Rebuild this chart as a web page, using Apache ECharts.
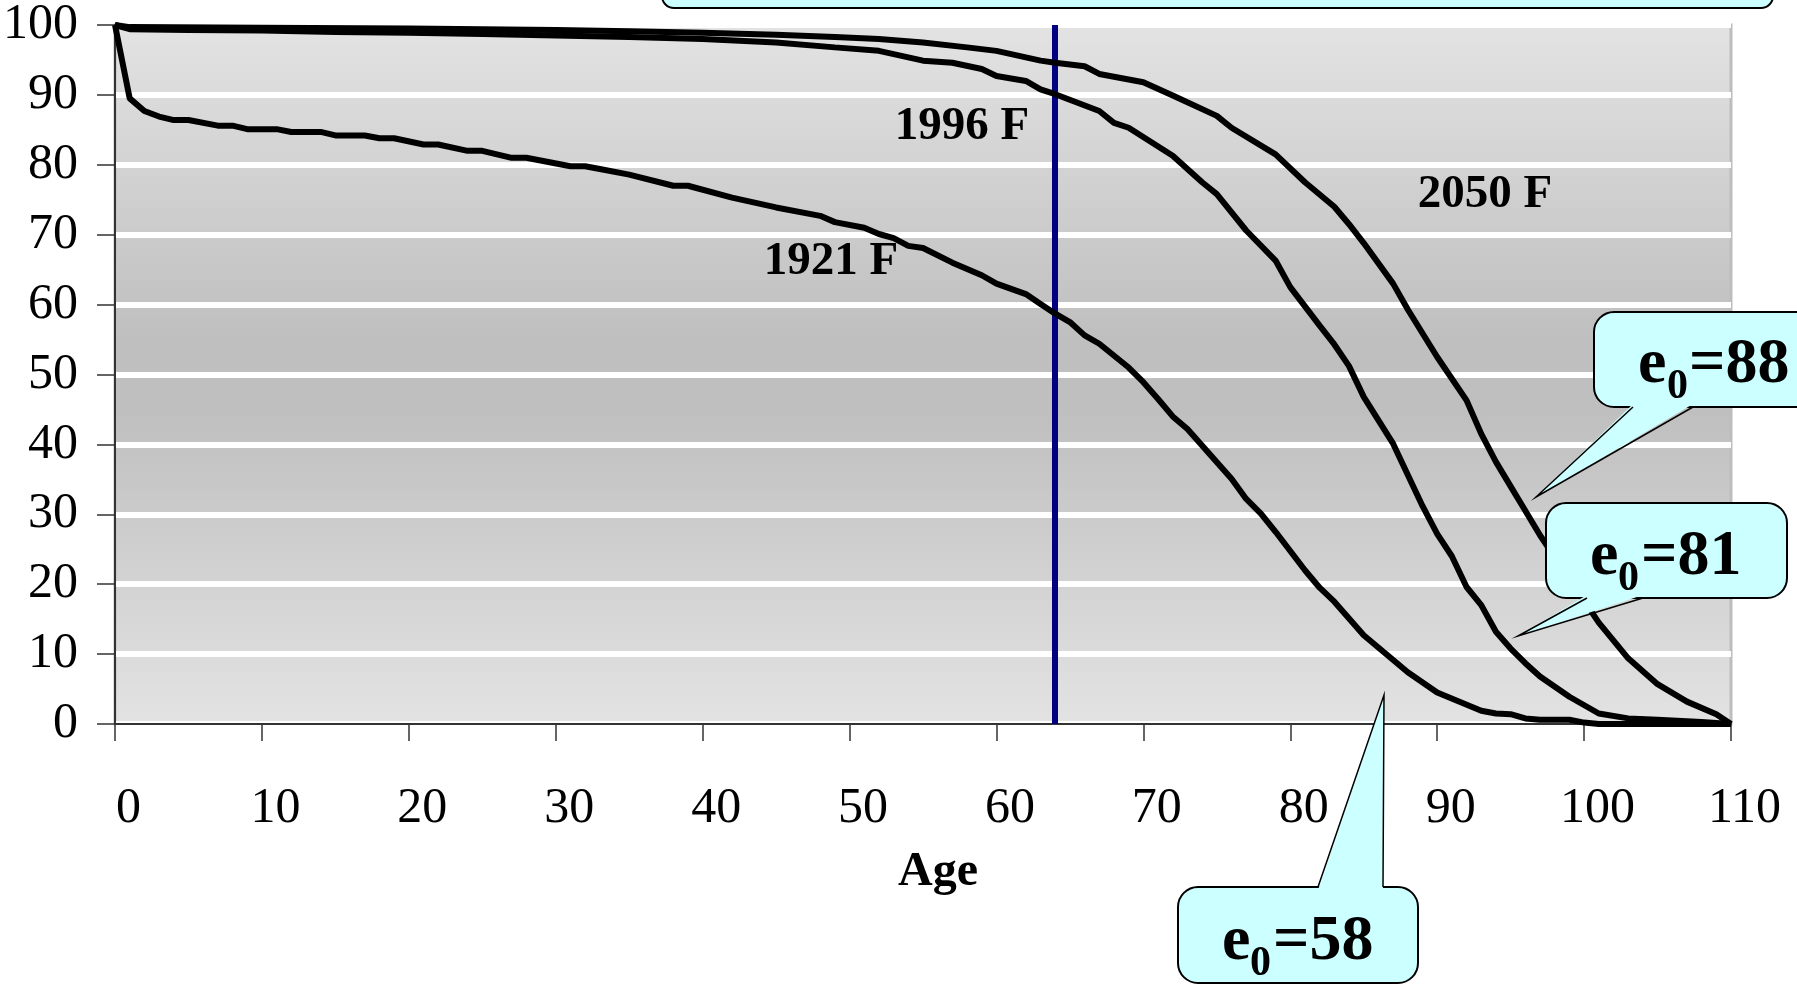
<!DOCTYPE html>
<html>
<head>
<meta charset="utf-8">
<script src="https://cdn.jsdelivr.net/npm/echarts@6/dist/echarts.min.js"></script>
<style>
html,body{margin:0;padding:0;background:#fff;}
#chart{width:1797px;height:990px;}
</style>
</head>
<body>
<div id="chart"></div>
<script>
// ---- data ----
var ages1921 = [0,1,2,3,4,5,7,8,9,11,12,14,15,17,18,19,21,22,24,25,27,28,31,32,33,35,38,39,42,45,48,49,51,52,53,54,55,57,59,60,62,63,64,65,66,67,69,70,71,72,73,76,77,78,79,81,82,83,85,88,90,93,94,95,96,97,99,100,101,110];
var surv1921 = [100,89.5,87.7,86.9,86.4,86.4,85.6,85.6,85.1,85.1,84.7,84.7,84.2,84.2,83.8,83.8,82.9,82.9,82.0,82.0,81.0,81.0,79.8,79.8,79.4,78.6,77.0,77.0,75.3,73.9,72.7,71.8,71.0,70.1,69.5,68.4,68.1,66.0,64.2,63.0,61.5,60.1,58.7,57.5,55.6,54.4,51.0,48.9,46.5,44.0,42.2,35.1,32.2,30.1,27.5,22.0,19.5,17.5,12.7,7.4,4.5,1.9,1.5,1.4,0.8,0.6,0.6,0.2,0,0];

var ages1996 = [0,1,5,10,15,20,25,30,35,40,45,49,52,55,57,59,60,62,63,64,67,68,69,72,73,74,75,77,79,80,82,83,84,85,87,89,90,91,92,93,94,95,96,97,99,101,103,105,108,110];
var surv1996 = [100,99.4,99.3,99.2,99.0,98.9,98.7,98.5,98.3,98.0,97.5,96.8,96.3,94.9,94.6,93.7,92.7,92.0,90.8,90.1,87.7,86.0,85.3,81.3,79.4,77.5,75.8,70.6,66.3,62.5,57.0,54.3,51.2,46.8,40.1,31.2,27.2,24.0,19.6,17.0,13.2,10.8,8.7,6.8,3.9,1.5,0.8,0.6,0.3,0];

var ages2050 = [0,1,10,20,30,35,40,45,49,52,55,58,60,63,64,66,67,70,72,75,76,79,81,83,84,85,87,88,90,92,93,94,95,96,97,101,103,105,107,109,110];
var surv2050 = [100,99.7,99.6,99.5,99.3,99.1,98.9,98.6,98.3,98.0,97.5,96.8,96.3,94.9,94.6,94.1,93.0,91.8,89.9,87.0,85.3,81.5,77.5,74.0,71.5,68.8,63.0,59.3,52.5,46.3,41.5,37.5,34.0,30.5,27.0,14.5,9.4,5.7,3.2,1.4,0];

var seriesNames = ['1921 F','1996 F','2050 F'];
var retirementAge = 64;
var xTicks = {min:0, max:110, interval:10};
var yTicks = {min:0, max:100, interval:10};
var axisTitle = 'Age';

function pairs(a, v){ return a.map(function(x,i){ return [x, v[i]]; }); }

var FONT = '"Liberation Serif","Times New Roman",serif';
var CYAN = '#ccffff';

function callout(box, base, tip, mainText, sub, rest, pos){
  var inset = base[0][1] > tip[1] ? 3 : -3;
  return [
    {type:'rect', z:100, shape:{x:box[0], y:box[1], width:box[2], height:box[3], r:20},
     style:{fill:CYAN, stroke:'#000', lineWidth:2}},
    {type:'polygon', z:100, shape:{points:[[base[0][0], base[0][1]+inset],[tip[0],tip[1]],[base[1][0], base[1][1]+inset]]},
     style:{fill:CYAN, stroke:null}},
    {type:'polyline', z:100, shape:{points:[base[0], tip, base[1]]},
     style:{fill:null, stroke:'#000', lineWidth:1.5}},
    {type:'text', z:101, x:pos.ex, y:pos.my,
     style:{text:mainText, fontFamily:FONT, fontWeight:'bold', fontSize:64, fill:'#000', align:'left', verticalAlign:'middle'}},
    {type:'text', z:101, x:pos.sx, y:pos.sy,
     style:{text:sub, fontFamily:FONT, fontWeight:'bold', fontSize:42, fill:'#000', align:'left', verticalAlign:'middle'}},
    {type:'text', z:101, x:pos.rx, y:pos.my,
     style:{text:rest, fontFamily:FONT, fontWeight:'bold', fontSize:64, fill:'#000', align:'left', verticalAlign:'middle'}}
  ];
}

var graphics = [];
graphics.push({type:'rect', z:100, shape:{x:662, y:-60, width:1111, height:68, r:12},
  style:{fill:CYAN, stroke:'#000', lineWidth:2}});
graphics = graphics.concat(callout([1594,312,260,95], [[1633,407],[1693,407]], [1536,497], 'e','0','=88',
  {ex:1638, sx:1667, rx:1689, my:365, sy:387}));
graphics = graphics.concat(callout([1546,503,241,95], [[1587,598],[1643,598]], [1518,636], 'e','0','=81',
  {ex:1590, sx:1618, rx:1641, my:557, sy:579}));
graphics = graphics.concat(callout([1178,887,240,96], [[1318,887],[1383,887]], [1384,695], 'e','0','=58',
  {ex:1222, sx:1250, rx:1273, my:942, sy:964}));
var curveLabels = [
  {t:seriesNames[1], x:962, y:127},
  {t:seriesNames[0], x:831, y:262},
  {t:seriesNames[2], x:1485, y:195}
];
curveLabels.forEach(function(l){
  graphics.push({type:'text', z:90, x:l.x, y:l.y,
    style:{text:l.t, fontFamily:FONT, fontWeight:'bold', fontSize:47, fill:'#000', align:'center', verticalAlign:'middle'}});
});

var chart = echarts.init(document.getElementById('chart'), null, {renderer:'canvas'});
var lineStyle = {color:'#000', width:6};
chart.setOption({
  backgroundColor:'#fff',
  animation:false,
  grid:{
    left:115, right:66, top:24, bottom:266,
    show:true, borderColor:'#bdbdbd', borderWidth:3,
    backgroundColor:new echarts.graphic.LinearGradient(0,0,0,1,[
      {offset:0, color:'#e3e3e3'},
      {offset:0.45, color:'#bfbfbf'},
      {offset:0.55, color:'#bfbfbf'},
      {offset:1, color:'#e3e3e3'}
    ])
  },
  xAxis:{
    type:'value', min:xTicks.min, max:xTicks.max, interval:xTicks.interval,
    name:axisTitle, nameLocation:'middle', nameGap:125,
    nameTextStyle:{fontFamily:FONT, fontWeight:'bold', fontSize:48, color:'#000', padding:[0,0,0,30]},
    axisLine:{show:true, onZero:false, lineStyle:{color:'#333', width:2}},
    axisTick:{show:true, inside:false, length:17, lineStyle:{color:'#333', width:1.5}},
    axisLabel:{fontFamily:FONT, fontSize:50, color:'#000', margin:60, padding:[0,0,0,27]},
    splitLine:{show:false}
  },
  yAxis:{
    type:'value', min:yTicks.min, max:yTicks.max, interval:yTicks.interval,
    axisLine:{show:true, lineStyle:{color:'#333', width:2}},
    axisTick:{show:true, inside:false, length:18, lineStyle:{color:'#333', width:1.5}},
    axisLabel:{fontFamily:FONT, fontSize:50, color:'#000', margin:37},
    splitLine:{show:true, lineStyle:{color:'#ffffff', width:6}}
  },
  series:[
    {name:seriesNames[0], type:'line', data:pairs(ages1921, surv1921), showSymbol:false, symbol:'none',
     lineStyle:lineStyle, z:5,
     markLine:{silent:true, symbol:['none','none'], label:{show:false},
       lineStyle:{color:'#000080', width:6, type:'solid'}, data:[{xAxis:retirementAge}]}},
    {name:seriesNames[1], type:'line', data:pairs(ages1996, surv1996), showSymbol:false, symbol:'none',
     lineStyle:lineStyle, z:5},
    {name:seriesNames[2], type:'line', data:pairs(ages2050, surv2050), showSymbol:false, symbol:'none',
     lineStyle:lineStyle, z:5}
  ],
  graphic:{elements:graphics}
});
</script>
</body>
</html>
